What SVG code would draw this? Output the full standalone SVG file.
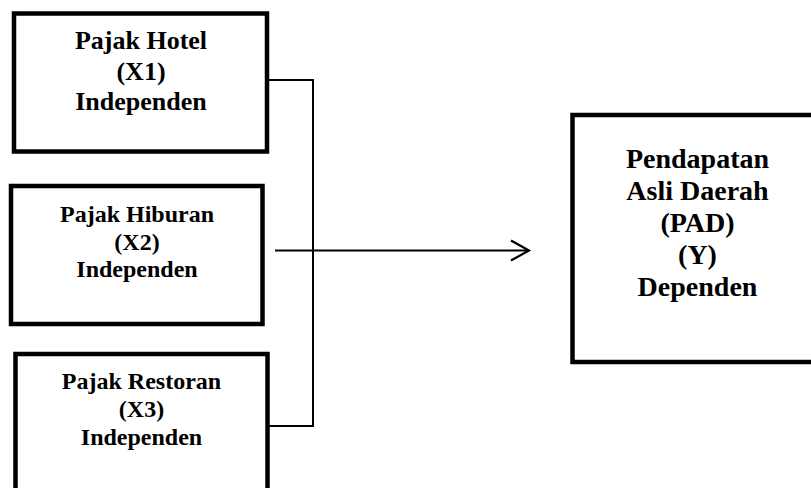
<svg xmlns="http://www.w3.org/2000/svg" width="811" height="488" viewBox="0 0 811 488">
<style>
.box{fill:#fff;stroke:#000;stroke-width:4.5}
.t{font-family:"Liberation Serif","Times New Roman",serif;font-weight:bold;fill:#000;text-anchor:middle}
.c{fill:none;stroke:#000;stroke-width:2}
</style>
<defs>
<marker id="arr" markerWidth="24" markerHeight="24" refX="20" refY="11" orient="auto" markerUnits="userSpaceOnUse" viewBox="0 0 24 22">
<path d="M2,1 L20,11 L2,21" fill="none" stroke="#000" stroke-width="2.2"/>
</marker>
</defs>
<rect width="811" height="488" fill="#fff"/>
<g id="connectors">
<path class="c" d="M267,80 H313 V426 H267"/>
<path class="c" d="M275,250.5 H529" marker-end="url(#arr)"/>
</g>
<g id="x1">
<rect class="box" x="14" y="13.5" width="253" height="138"/>
<text class="t" font-size="26" x="141" y="49">Pajak Hotel</text>
<text class="t" font-size="26" x="141" y="79.5">(X1)</text>
<text class="t" font-size="26" x="141" y="110">Independen</text>
</g>
<g id="x2">
<rect class="box" x="11" y="186" width="251.5" height="138"/>
<text class="t" font-size="24" x="137" y="222">Pajak Hiburan</text>
<text class="t" font-size="24" x="137" y="249.5">(X2)</text>
<text class="t" font-size="24" x="137" y="277">Independen</text>
</g>
<g id="x3">
<rect class="box" x="15.5" y="354" width="252" height="150"/>
<text class="t" font-size="24" x="141.5" y="389">Pajak Restoran</text>
<text class="t" font-size="24" x="141.5" y="417">(X3)</text>
<text class="t" font-size="24" x="141.5" y="445">Independen</text>
</g>
<g id="y">
<rect class="box" x="572.5" y="115" width="252" height="247"/>
<text class="t" font-size="28" x="697.5" y="168">Pendapatan</text>
<text class="t" font-size="28" x="697.5" y="200">Asli Daerah</text>
<text class="t" font-size="28" x="697.5" y="232">(PAD)</text>
<text class="t" font-size="28" x="697.5" y="264">(Y)</text>
<text class="t" font-size="28" x="697.5" y="296">Dependen</text>
</g>
</svg>
